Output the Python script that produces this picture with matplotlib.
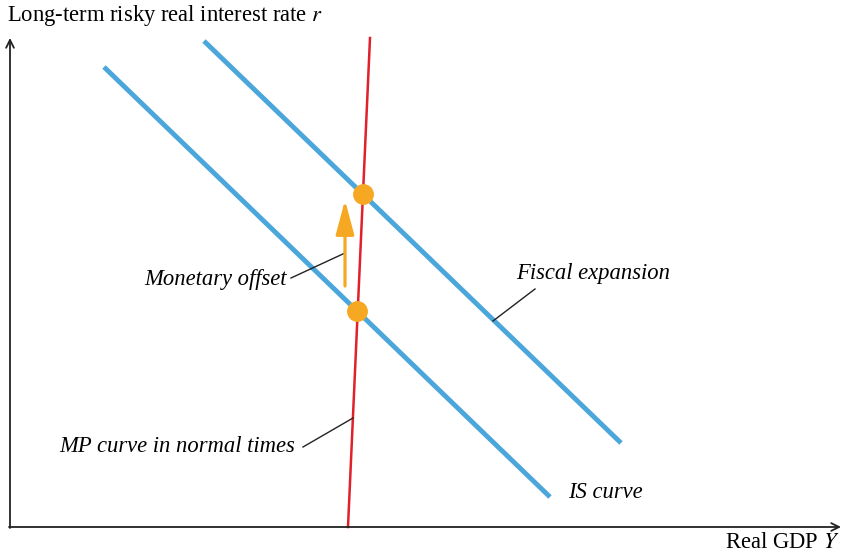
import matplotlib
matplotlib.use("Agg")
import matplotlib.pyplot as plt

# Diagram coordinates (pixel-like units, y grows downward)
is_x = [104, 550]
is_y = [67, 497]
fiscal_x = [204, 621]
fiscal_y = [41, 443]
mp_x = [348, 370]
mp_y = [527, 38]
eq_x = [363, 357]
eq_y = [194, 311]

plt.rcParams['font.family'] = ['Liberation Serif', 'DejaVu Serif']
plt.rcParams['mathtext.fontset'] = 'stix'

fig = plt.figure(figsize=(8.44, 5.55), dpi=100)
ax = fig.add_axes([0, 0, 1, 1])
ax.set_xlim(0, 844)
ax.set_ylim(555, 0)
ax.axis('off')

blue = '#4ba6dc'
red = '#e0202a'
orange = '#f7a823'

# axes
ax.annotate('', xy=(841, 527), xytext=(9, 527),
            arrowprops=dict(arrowstyle='->', lw=1.3, color='#222222', mutation_scale=14,
                            shrinkA=0, shrinkB=0))
ax.annotate('', xy=(10, 38), xytext=(10, 528),
            arrowprops=dict(arrowstyle='->', lw=1.3, color='#222222', mutation_scale=14,
                            shrinkA=0, shrinkB=0))

ax.plot(is_x, is_y, color=blue, lw=3.5, solid_capstyle='butt')
ax.plot(fiscal_x, fiscal_y, color=blue, lw=3.5, solid_capstyle='butt')
ax.plot(mp_x, mp_y, color=red, lw=1.8)
ax.plot(eq_x, eq_y, 'o', color=orange, ms=14, zorder=5)

# monetary offset arrow
ax.annotate('', xy=(345, 200), xytext=(345, 286),
            arrowprops=dict(arrowstyle='-|>,head_width=0.28,head_length=1.05',
                            lw=2.3, color=orange, mutation_scale=20,
                            shrinkA=0, shrinkB=0))

fs = 16.3
ax.text(7, 16, 'Long-term risky real interest rate $r$', fontsize=fs, va='center', ha='left')
ax.text(839, 543, 'Real GDP $Y$', fontsize=fs, va='center', ha='right')

ax.text(287, 280, 'Monetary offset', fontsize=fs, style='italic', va='center', ha='right')
ax.plot([291, 345], [278, 253], color='#222222', lw=1.0)

ax.text(295, 446, 'MP curve in normal times', fontsize=fs, style='italic', va='center', ha='right')
ax.plot([303, 353], [447, 418], color='#222222', lw=1.0)

ax.text(516, 273, 'Fiscal expansion', fontsize=fs, style='italic', va='center', ha='left')
ax.plot([493, 535], [321, 289], color='#222222', lw=1.0)

ax.text(568, 493, 'IS curve', fontsize=fs, style='italic', va='center', ha='left')

fig.savefig('out.png', dpi=100)
